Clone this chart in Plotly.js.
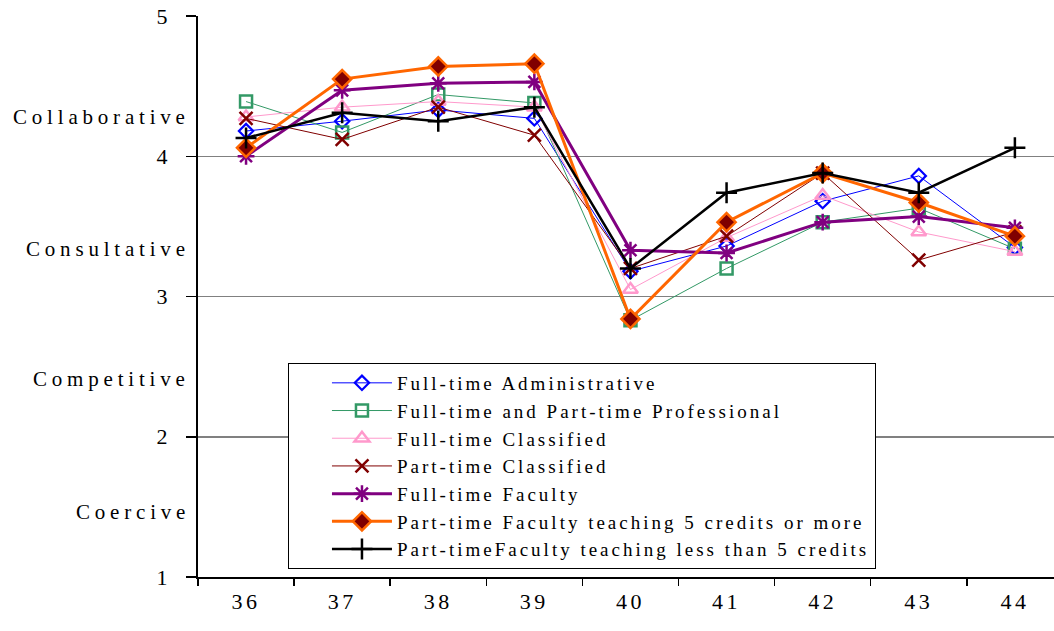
<!DOCTYPE html>
<html>
<head>
<meta charset="utf-8">
<script src="https://cdn.plot.ly/plotly-3.0.1.min.js"></script>
<style>
  html, body { margin: 0; padding: 0; background: #ffffff; }
  #chart { width: 1054px; height: 631px; }
  .legendtext { letter-spacing: 3px; }
  .annotation-text { letter-spacing: 4.8px; }
  .xtick text { letter-spacing: 3.5px; }
</style>
</head>
<body>
<div id="chart"></div>
<script>
// Question numbers along the horizontal axis
const questions = ['36', '37', '38', '39', '40', '41', '42', '43', '44'];

// Mean rating per respondent group
const fullTimeAdministrative = [4.18, 4.25, 4.33, 4.27, 3.18, 3.36, 3.68, 3.86, 3.35];
const fullPartTimeProfessional = [4.39, 4.17, 4.44, 4.38, 2.83, 3.20, 3.53, 3.63, 3.34];
const fullTimeClassified = [4.28, 4.35, 4.39, 4.35, 3.05, 3.42, 3.72, 3.46, 3.32];
const partTimeClassified = [4.27, 4.12, 4.35, 4.15, 3.20, 3.43, 3.88, 3.26, 3.46];
const fullTimeFaculty = [4.00, 4.47, 4.52, 4.53, 3.33, 3.31, 3.53, 3.57, 3.49];
const partTimeFacultyFivePlus = [4.06, 4.55, 4.64, 4.66, 2.84, 3.53, 3.88, 3.67, 3.43];
const partTimeFacultyUnderFive = [4.13, 4.31, 4.25, 4.35, 3.20, 3.74, 3.88, 3.74, 4.06];

// Series names shown in the legend
const seriesNames = [
  'Full-time Administrative',
  'Full-time and Part-time Professional',
  'Full-time Classified',
  'Part-time Classified',
  'Full-time Faculty',
  'Part-time Faculty teaching 5 credits or more',
  'Part-timeFaculty teaching less than 5 credits'
];

// Style labels placed beside the value axis
const styleLabels = ['Collaborative', 'Consultative', 'Competitive', 'Coercive'];
const styleLabelLevels = [4.28, 3.34, 2.41, 1.46];

const yTicks = [1, 2, 3, 4, 5];

const seriesValues = [
  fullTimeAdministrative,
  fullPartTimeProfessional,
  fullTimeClassified,
  partTimeClassified,
  fullTimeFaculty,
  partTimeFacultyFivePlus,
  partTimeFacultyUnderFive
];

const seriesStyles = [
  { line: { color: '#0000ff', width: 1 },
    marker: { symbol: 'diamond-open', size: 11, color: '#0000ff', line: { color: '#0000ff', width: 2.2 } } },
  { line: { color: '#339966', width: 1 },
    marker: { symbol: 'square-open', size: 12, color: '#339966', line: { color: '#339966', width: 2.5 } } },
  { line: { color: '#ff99cc', width: 1 },
    marker: { symbol: 'triangle-up-open', size: 13, color: '#ff99cc', line: { color: '#ff99cc', width: 2.5 } } },
  { line: { color: '#800000', width: 1 },
    marker: { symbol: 'x-thin-open', size: 13, color: '#800000', line: { color: '#800000', width: 2.5 } } },
  { line: { color: '#800080', width: 3 },
    marker: { symbol: 'asterisk-open', size: 14, color: '#800080', line: { color: '#800080', width: 2.5 } } },
  { line: { color: '#ff6600', width: 3 },
    marker: { symbol: 'diamond', size: 14, color: '#800000', line: { color: '#ff6600', width: 2.5 } } },
  { line: { color: '#000000', width: 2.5 },
    marker: { symbol: 'cross-thin-open', size: 15, color: '#000000', line: { color: '#000000', width: 2.5 } } }
];

const traces = seriesValues.map((vals, i) => ({
  type: 'scatter',
  mode: 'lines+markers',
  x: questions,
  y: vals,
  name: seriesNames[i],
  line: seriesStyles[i].line,
  marker: seriesStyles[i].marker,
  cliponaxis: false
}));

const serif = '"Liberation Serif", "Times New Roman", "DejaVu Serif", serif';

const annotations = styleLabels.map((txt, i) => ({
  text: txt,
  xref: 'paper',
  yref: 'y',
  x: 0,
  xshift: -6,
  y: styleLabelLevels[i],
  xanchor: 'right',
  yanchor: 'middle',
  showarrow: false,
  font: { family: serif, size: 21, color: '#000000' }
}));

const layout = {
  width: 1054,
  height: 631,
  margin: { l: 198, r: 0, t: 16, b: 54 },
  paper_bgcolor: '#ffffff',
  plot_bgcolor: '#ffffff',
  showlegend: true,
  font: { family: serif, color: '#000000' },
  xaxis: {
    type: 'category',
    categoryorder: 'array',
    categoryarray: questions,
    range: [-0.5, 8.407],
    tickson: 'boundaries',
    ticks: 'outside',
    ticklen: 7,
    tickwidth: 1.5,
    tickcolor: '#000000',
    showline: true,
    linecolor: '#000000',
    linewidth: 1.5,
    showgrid: false,
    zeroline: false,
    ticklabelstandoff: 4,
    tickfont: { family: serif, size: 22, color: '#000000' }
  },
  yaxis: {
    range: [1, 5],
    tickvals: yTicks,
    ticktext: yTicks.map(String),
    ticks: 'outside',
    ticklen: 10,
    tickwidth: 1.5,
    tickcolor: '#000000',
    showline: true,
    linecolor: '#000000',
    linewidth: 2,
    showgrid: true,
    gridcolor: '#808080',
    gridwidth: 1.5,
    zeroline: false,
    ticklabelstandoff: 14,
    tickfont: { family: serif, size: 22, color: '#000000' }
  },
  legend: {
    x: 0.1051,
    y: 0.3815,
    xanchor: 'left',
    yanchor: 'top',
    bgcolor: '#ffffff',
    bordercolor: '#000000',
    borderwidth: 1,
    indentation: 38,
    itemwidth: 60,
    font: { family: serif, size: 19, color: '#000000' }
  },
  annotations: annotations
};

Plotly.newPlot('chart', traces, layout, { displayModeBar: false, staticPlot: true });
</script>
</body>
</html>
